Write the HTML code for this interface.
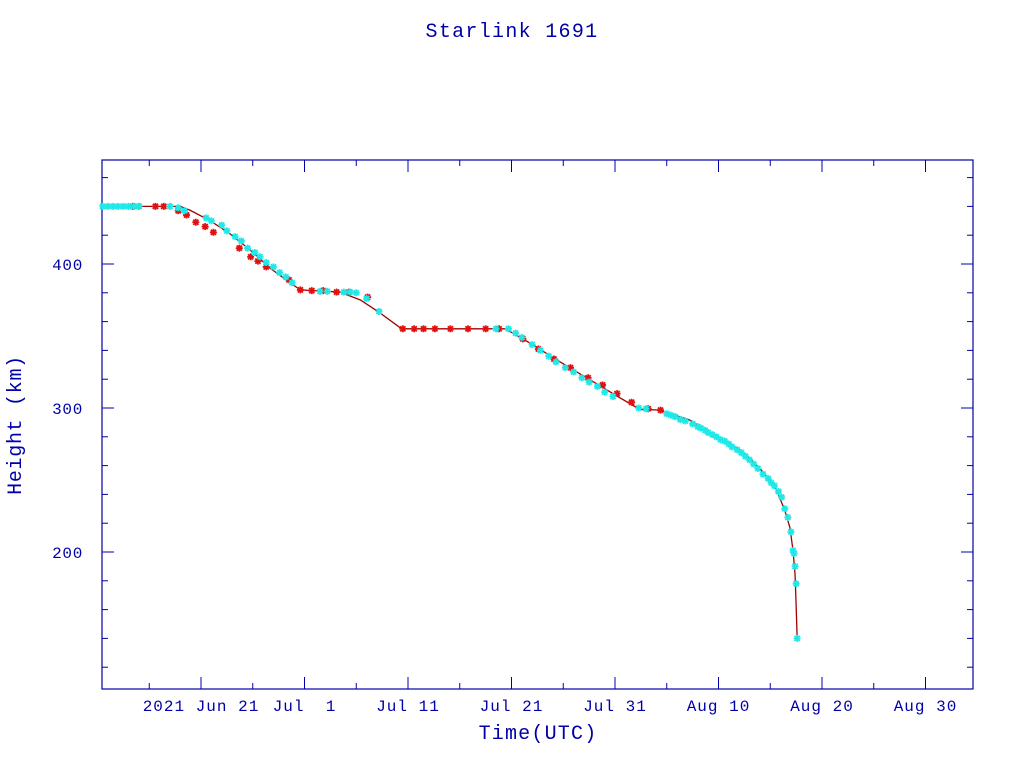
<!DOCTYPE html>
<html><head><meta charset="utf-8"><style>
html,body{margin:0;padding:0;background:#fff;}
svg{display:block;font-family:"Liberation Mono",monospace;}
text{white-space:pre;}
</style></head><body>
<svg id="chart" width="1024" height="768" xmlns="http://www.w3.org/2000/svg">
<text x="512" y="37" text-anchor="middle" font-size="20" letter-spacing="1.3" fill="#0000a8">Starlink 1691</text>
<text x="538" y="739" text-anchor="middle" font-size="20" letter-spacing="1.2" fill="#0000a8">Time(UTC)</text>
<text transform="translate(21,425) rotate(-90)" text-anchor="middle" font-size="20" letter-spacing="0.7" fill="#0000a8">Height (km)</text>
<g id="axes"></g>
<g id="marks"></g>
</svg>
<script>
// days relative to 2021 Jun 21
const xTickDays=[0,10,20,30,40,50,60,70];
const xTickLabels=["2021 Jun 21","Jul  1","Jul 11","Jul 21","Jul 31","Aug 10","Aug 20","Aug 30"];
const yTickValues=[200,300,400];
const lineDays=[-9.6,-2,-1.1,0.9,2.8,4.7,6.7,8.6,9.6,13.4,15.4,17.3,19.2,19.7,29.4,31.8,34.7,37.6,40.5,42.4,44.3,47.2,50.1,52.1,54,55.5,56.4,56.9,57.2,57.4,57.5,57.6];
const lineHeights=[440,440,437.5,430,421,410,397,387,382,380.5,375,366,356,355,355,345,332,319.5,307,299,298.6,291.7,279,271,258,245,229,217,201,184,163,140];
const cyanDays=[-9.5,-9,-8.5,-8,-7.5,-7,-6.5,-6,-3,-2.2,-1.6,0.5,1,2,2.5,3.3,3.9,4.5,5.2,5.7,6.3,7,7.6,8.2,8.8,11.5,12.2,13.8,14.4,15,16,17.2,28.5,29.7,30.4,31,32,32.8,33.6,34.3,35.2,36,36.8,37.5,38.3,39,39.8,42.3,43,45,45.4,45.8,46.3,46.8,47.5,48,48.3,48.7,49,49.4,49.8,50.2,50.6,51,51.3,51.8,52.2,52.6,53,53.4,53.8,54.3,54.8,55.1,55.4,55.8,56.1,56.4,56.7,57,57.2,57.3,57.4,57.5,57.6];
const cyanHeights=[440,440,440,440,440,440,440,440,440,439,437,432,430,427,423,419,416,411,408,405,401,398,394,391,387,381,381,380.5,380.5,380,376,367,355,355,352,349,344,340,336,332,328,325,321,318,315,311,308,300,299.5,296,295,294,292,291,289,287,286,284.5,283,281.5,280,278,277,275,273,271,269,266.5,264,261,258,254,251,248,246,242,238,230,224,214,201,199,190,178,140];
const redDays=[-6.6,-6,-4.4,-3.6,-2.2,-1.4,-0.5,0.4,1.2,3.7,4.8,5.5,6.3,8.5,9.6,10.7,11.8,13.1,14.3,16.1,19.5,20.6,21.5,22.6,24.1,25.8,27.5,28.8,31.1,32.6,34.1,35.7,37.4,38.8,40.2,41.6,43.2,44.4];
const redHeights=[440,440,440,440,437,434,429,426,422,411,405,402,398,389,382,381.5,381.5,380.5,380.5,377,355,355,355,355,355,355,355,355,348,341,334,328,321,316,310,304,299.5,298.5];

const svg=document.getElementById('chart');
const NS='http://www.w3.org/2000/svg';
const L=102,R=973,T=160,B=689;
const X=d=>201+d*10.35;
const Y=h=>408-(h-300)*1.44;
const C='#0000a8';
function el(tag,attrs,parent){const e=document.createElementNS(NS,tag);for(const k in attrs)e.setAttribute(k,attrs[k]);parent.appendChild(e);return e;}
const axes=document.getElementById('axes');
const frame=el('rect',{x:L,y:T,width:R-L,height:B-T,fill:'none',stroke:C,'stroke-width':1.2},axes);


for(let d=-5;d<=75;d+=5){const x=X(d);if(x<L||x>R)continue;const len=(d%10===0)?12:6;
 el('line',{x1:x,y1:B,x2:x,y2:B-len,stroke:C,'stroke-width':1},axes);
 el('line',{x1:x,y1:T,x2:x,y2:T+len,stroke:C,'stroke-width':1},axes);}
xTickDays.forEach((d,i)=>{const t=el('text',{x:X(d),y:711,'text-anchor':'middle','font-size':16,'letter-spacing':1,fill:C},axes);t.textContent=xTickLabels[i];
 
 });
for(let h=120;h<=460;h+=20){const y=Y(h);if(y<T||y>B)continue;const len=(h%100===0)?12:6;
 el('line',{x1:L,y1:y,x2:L+len,y2:y,stroke:C,'stroke-width':1},axes);
 el('line',{x1:R,y1:y,x2:R-len,y2:y,stroke:C,'stroke-width':1},axes);}
yTickValues.forEach(v=>{const t=el('text',{x:83,y:Y(v)+6,'text-anchor':'end','font-size':16,'letter-spacing':0.7,fill:C},axes);t.textContent=v;
 
 });
const marks=document.getElementById('marks');
const line=el('polyline',{points:lineDays.map((d,i)=>X(d)+','+Y(lineHeights[i])).join(' '),fill:'none',stroke:'#a00000','stroke-width':1.3},marks);


function star(x,y,col,name){const g=el('g',{stroke:col,'stroke-width':1.8},marks);
 
 
 const r=3.5;el('line',{x1:x-r,y1:y,x2:x+r,y2:y},g);el('line',{x1:x,y1:y-r,x2:x,y2:y+r},g);
 el('line',{x1:x-2.6,y1:y-2.6,x2:x+2.6,y2:y+2.6},g);el('line',{x1:x-2.6,y1:y+2.6,x2:x+2.6,y2:y-2.6},g);}
redDays.forEach((d,i)=>star(X(d),Y(redHeights[i]),'#e01010','red-point'));
cyanDays.forEach((d,i)=>star(X(d),Y(cyanHeights[i]),'#20e8e8','cyan-point'));
</script>
</body></html>
